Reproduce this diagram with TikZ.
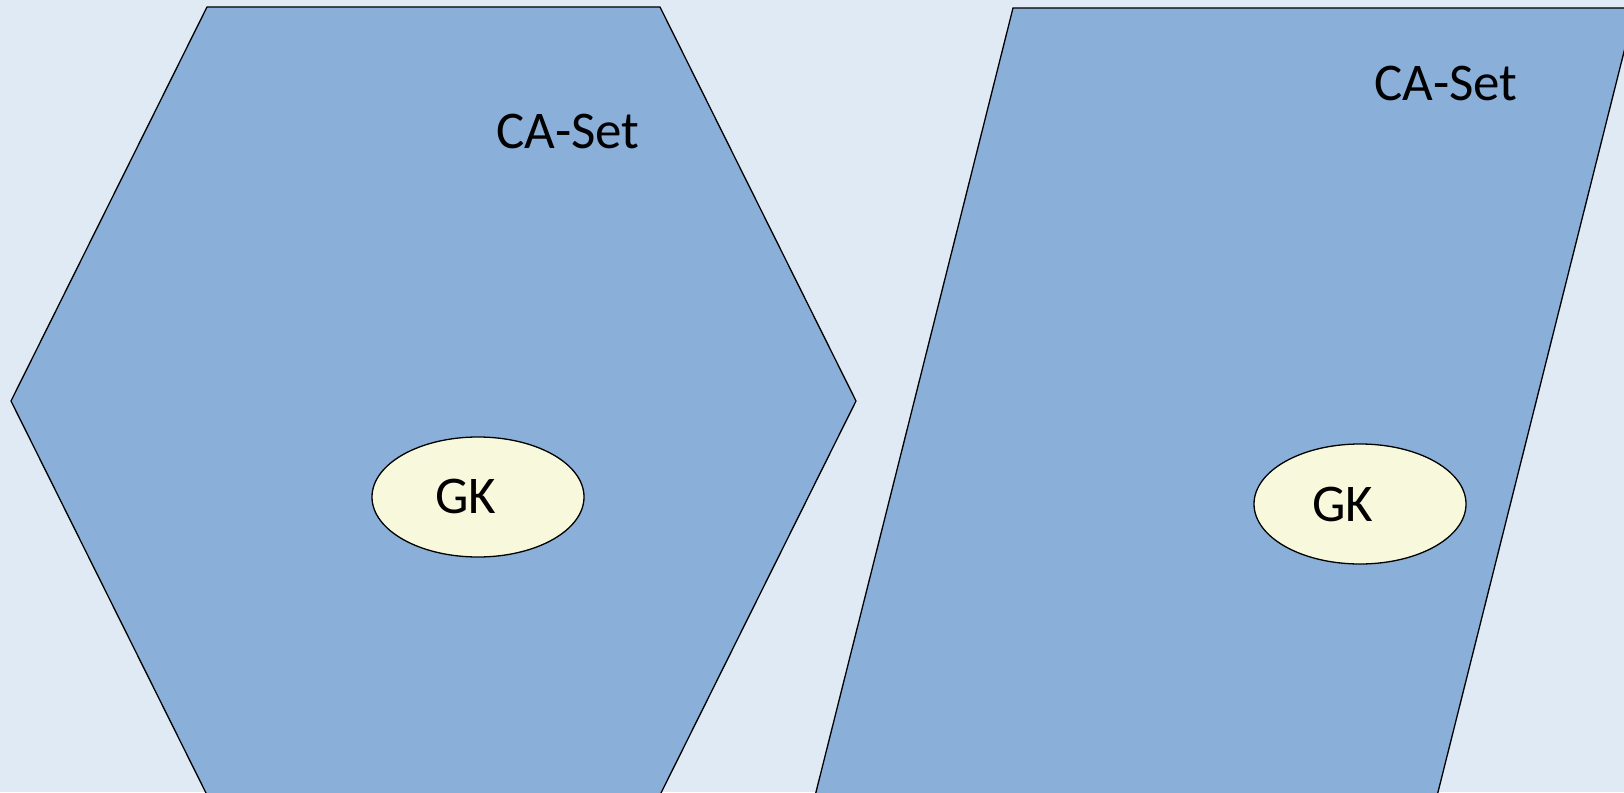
\documentclass[tikz,border=0pt]{standalone}
\usepackage{fontspec}
\setmainfont{Carlito}
\usetikzlibrary{shapes.geometric}
\definecolor{bgblue}{RGB}{223,234,245}
\definecolor{setblue}{RGB}{138,175,216}
\definecolor{gkyellow}{RGB}{248,249,220}

\begin{document}
\begin{tikzpicture}[x=1pt, y=-1pt,
    every node/.style={font=\fontsize{53}{62}\selectfont, inner sep=0pt},
    caset/.style={fill=setblue, draw=black, line width=1.3pt, line join=miter},
    gk/.style={ellipse, draw=black, fill=gkyellow, line width=1.3pt,
      minimum width=212pt, minimum height=120pt}]
  \fill[bgblue] (0,0) rectangle (1624,792);
  \useasboundingbox (0,0) rectangle (1624,792);
  \begin{scope}
    \clip (0,0) rectangle (1624,792);
    \draw[caset] (11,401) -- (207,7) -- (660,7) -- (856,401) -- (660,795) -- (207,795) -- cycle;
    \draw[caset] (1013,8) -- (1635,8) -- (1436,800) -- (814,800) -- cycle;
  \end{scope}
  \node (casetleft) at (568,131) {CA-Set};
  \node[gk] (gkleft) at (478,497) {};
  \node (gkleftlabel) at (466,496) {GK};
  \node (casetright) at (1446,83) {CA-Set};
  \node[gk] (gkright) at (1360,504) {};
  \node (gkrightlabel) at (1343,504) {GK};
\end{tikzpicture}
\end{document}
